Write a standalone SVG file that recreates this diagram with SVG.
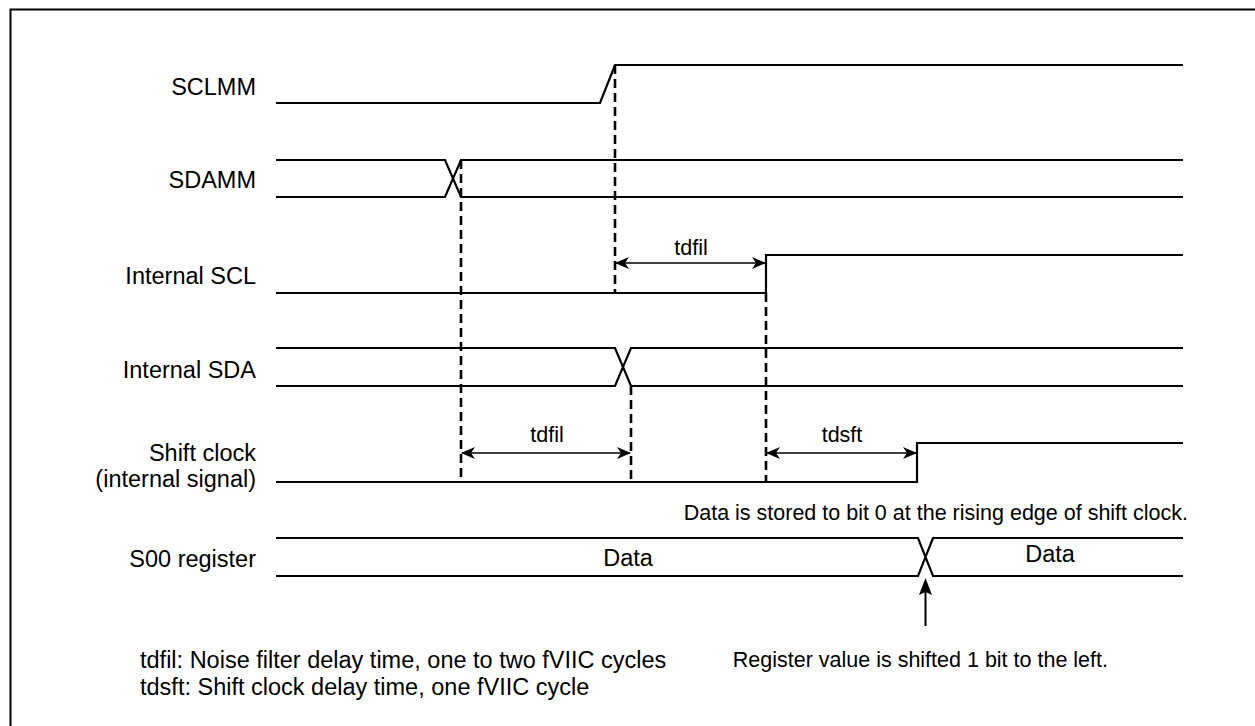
<svg xmlns="http://www.w3.org/2000/svg" width="1255" height="726" viewBox="0 0 1255 726">
<style>
.sig{fill:none;stroke:#000;stroke-width:2.2;stroke-linejoin:miter}
.dash{fill:none;stroke:#000;stroke-width:2.6;stroke-dasharray:9,5}
.arr{fill:none;stroke:#000;stroke-width:1.6}
.lbl{font-family:"Liberation Sans",Arial,sans-serif;font-size:23.5px;fill:#000}
.ann{font-family:"Liberation Sans",Arial,sans-serif;font-size:21.5px;fill:#000}
</style>
<defs>
<marker id="ah" viewBox="0 0 14 12" refX="13" refY="6" markerWidth="14" markerHeight="12" markerUnits="userSpaceOnUse" orient="auto-start-reverse">
<path d="M0,0 L14,6 L0,12 L4,6 Z" fill="#000"/>
</marker>
</defs>
<rect x="10.5" y="9.5" width="1260" height="730" fill="#fff" stroke="#000" stroke-width="2"/>
<g id="sclmm">
<text class="lbl" x="256" y="95" text-anchor="end">SCLMM</text>
<path class="sig" d="M276,103 H600 L615,65 H1183"/>
</g>
<g id="sdamm">
<text class="lbl" x="256" y="188" text-anchor="end">SDAMM</text>
<path class="sig" d="M276,160 H445 L461,197 H1183 M276,197 H445 L461,160 H1183"/>
</g>
<g id="internal-scl">
<text class="lbl" x="256" y="284" text-anchor="end">Internal SCL</text>
<path class="sig" d="M276,293 H766 V255 H1183"/>
</g>
<g id="internal-sda">
<text class="lbl" x="256" y="378" text-anchor="end">Internal SDA</text>
<path class="sig" d="M276,348 H615 L631,386 H1183 M276,386 H615 L631,348 H1183"/>
</g>
<g id="shift-clock">
<text class="lbl" x="256" y="461" text-anchor="end">Shift clock</text>
<text class="lbl" x="256" y="487" text-anchor="end">(internal signal)</text>
<path class="sig" d="M276,482 H917 V443 H1183"/>
<text class="ann" x="1188" y="520" text-anchor="end">Data is stored to bit 0 at the rising edge of shift clock.</text>
</g>
<g id="s00-register">
<text class="lbl" x="256" y="567" text-anchor="end">S00 register</text>
<path class="sig" d="M276,538 H918 L933,576 H1183 M276,576 H918 L933,538 H1183"/>
<text class="lbl" x="628" y="566" text-anchor="middle">Data</text>
<text class="lbl" x="1050" y="562" text-anchor="middle">Data</text>
<text class="ann" x="1108" y="667" text-anchor="end">Register value is shifted 1 bit to the left.</text>
</g>
<g id="notes">
<text class="lbl" x="140" y="668">tdfil: Noise filter delay time, one to two fVIIC cycles</text>
<text class="lbl" x="140" y="695">tdsft: Shift clock delay time, one fVIIC cycle</text>
</g>
<g id="connectors">
<path class="dash" d="M461,160 V482"/>
<path class="dash" d="M615,65 V293"/>
<path class="dash" d="M766,293 V482"/>
<path class="dash" d="M631,386 V482"/>
<path class="arr" d="M616,263 H765" marker-start="url(#ah)" marker-end="url(#ah)"/>
<text class="ann" x="691" y="255" text-anchor="middle">tdfil</text>
<path class="arr" d="M462,453 H630" marker-start="url(#ah)" marker-end="url(#ah)"/>
<text class="ann" x="547" y="442" text-anchor="middle">tdfil</text>
<path class="arr" d="M767,453 H916" marker-start="url(#ah)" marker-end="url(#ah)"/>
<text class="ann" x="842" y="442" text-anchor="middle">tdsft</text>
<path d="M925.5,626 V590" fill="none" stroke="#000" stroke-width="2"/>
<path d="M925.5,578 L932,595 L925.5,592 L919,595 Z" fill="#000"/>
</g>
</svg>
